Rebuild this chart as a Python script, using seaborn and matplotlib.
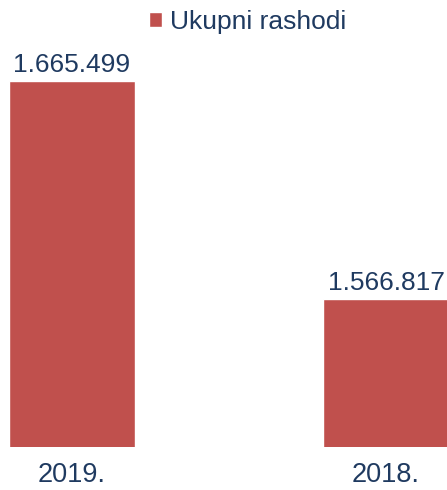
import matplotlib
matplotlib.use('Agg')
import matplotlib.pyplot as plt
import seaborn as sns
import pandas as pd

# --- data ---
years = ['2019.', '2018.']
rashodi = [1665499, 1566817]
series_name = 'Ukupni rashodi'
value_labels = ['1.665.499', '1.566.817']

BAR_COLOR = '#C0504D'
TEXT_COLOR = '#1F3A60'

sns.set_theme(style='white')
plt.rcParams['font.family'] = ['Liberation Sans', 'DejaVu Sans']

df = pd.DataFrame({'godina': years, 'iznos': rashodi, 'serija': series_name})

fig = plt.figure(figsize=(4.47, 4.90), dpi=100)
ax = fig.add_axes([0, 43 / 490, 1, 447 / 490])

sns.barplot(data=df, x='godina', y='iznos', hue='serija', palette=[BAR_COLOR],
            width=0.4, dodge=False, saturation=1, ax=ax, legend=True)

ax.set_xlim(-0.229, 1.194)
ax.set_ylim(1500000, 1702125)

for container in ax.containers:
    ax.bar_label(container, labels=value_labels, padding=3, fontsize=19,
                 color=TEXT_COLOR)

ax.set_xlabel('')
ax.set_ylabel('')
ax.set_yticks([])
ax.tick_params(axis='x', length=0, pad=11, labelsize=19.5, labelcolor=TEXT_COLOR)
for s in ax.spines.values():
    s.set_visible(False)

ax.get_legend().remove()
fig.legend(handles=ax.containers[0][:1], labels=[series_name],
           loc='upper left', bbox_to_anchor=(149 / 447, 1 - 10 / 490),
           frameon=False, fontsize=19, labelcolor=TEXT_COLOR,
           handlelength=0.5, handleheight=0.5, handletextpad=0.3,
           borderpad=0, borderaxespad=0)

fig.savefig('out.png', dpi=100)
